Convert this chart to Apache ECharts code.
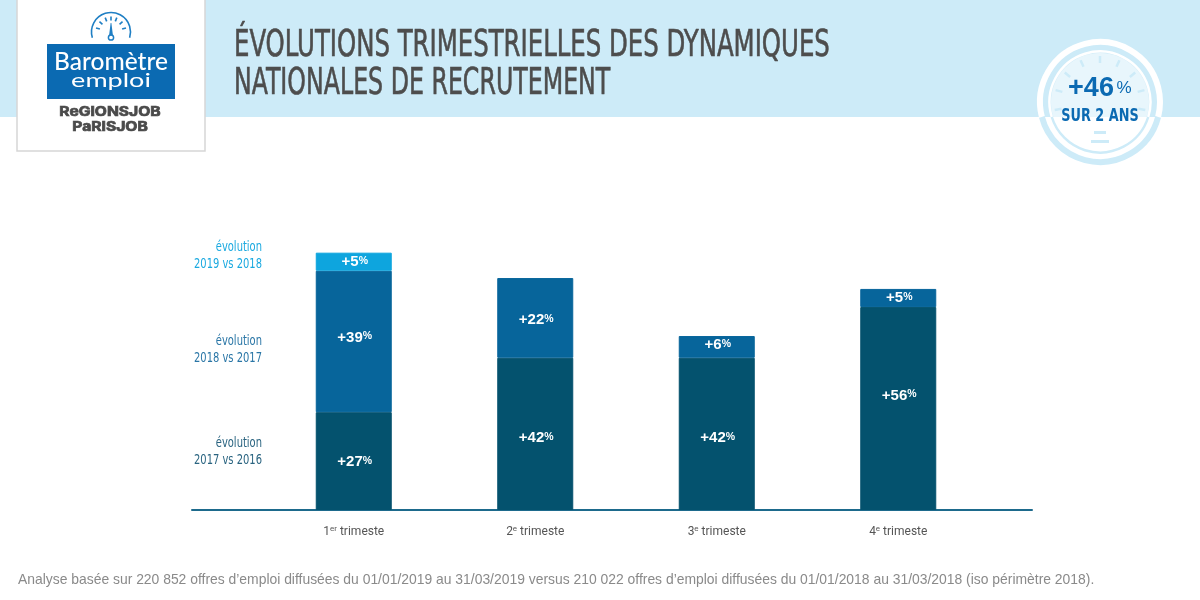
<!DOCTYPE html>
<html>
<head>
<meta charset="utf-8">
<style>html,body{margin:0;padding:0;background:#fff}#chart{width:1200px;height:600px}</style>
<script src="https://cdn.jsdelivr.net/npm/echarts@6/dist/echarts.min.js"></script>
</head>
<body>
<div id="chart"></div>
<script>
// donnees
const quarters = ['1{s|er} trimeste', '2{s|e} trimeste', '3{s|e} trimeste', '4{s|e} trimeste']
const evo2017 = [27, 42, 42, 56]
const evo2018 = [39, 22, 6, 5]
const evo2019 = [5, null, null, null]
const titleLines = ['ÉVOLUTIONS TRIMESTRIELLES DES DYNAMIQUES', 'NATIONALES DE RECRUTEMENT']
const footnote = 'Analyse basée sur 220 852 offres d’emploi diffusées du 01/01/2019 au 31/03/2019 versus 210 022 offres d’emploi diffusées du 01/01/2018 au 31/03/2018 (iso périmètre 2018).'

const narrow = '"DejaVu Sans Condensed","DejaVu Sans",sans-serif'
const sans = '"Liberation Sans",Arial,sans-serif'
const bandColor = '#cdebf8'
const gaugeBlue = '#1f7fc4'
const deg = Math.PI / 180

// les etiquettes ne sont pas toutes centrees dans l'original
function barSeries(name, data, color, shifts) {
    return {
        name: name,
        type: 'bar',
        stack: 'total',
        data: data.map((v, i) => v === null ? null : {value: v, label: {offset: [1, shifts[i]]}}),
        barWidth: 76,
        itemStyle: {color: color, borderColor: color, borderWidth: 1},
        label: {
            show: true,
            position: 'inside',
            formatter: '+{c}{p|%}',
            color: '#fff',
            fontFamily: sans,
            fontSize: 15,
            fontWeight: 'bold',
            rich: {p: {fontSize: 10.5, color: '#fff', fontFamily: sans, padding: [0, 0, 2, 0]}}
        }
    }
}

function sideLabel(y, lines, color) {
    return {
        type: 'text', x: 262, y: y, scaleX: 0.79,
        style: {text: lines, fill: color, font: '14px ' + narrow, align: 'right', verticalAlign: 'top', lineHeight: 17}
    }
}

function radialTicks(cx, cy, angles, r1, r2, color, width) {
    return angles.map(a => ({
        type: 'line',
        shape: {x1: cx + r1 * Math.cos(a * deg), y1: cy + r1 * Math.sin(a * deg), x2: cx + r2 * Math.cos(a * deg), y2: cy + r2 * Math.sin(a * deg)},
        style: {stroke: color, lineWidth: width}
    }))
}

// anneau de la pastille : couleurs inversees au dessus et au dessous du bandeau
function badgeRing(r, width, top, bottom) {
    const cut = Math.asin(15 / r) / deg
    return [
        {type: 'arc', shape: {cx: 1100, cy: 102, r: r, startAngle: (180 - cut) * deg, endAngle: (360 + cut) * deg}, style: {stroke: top, fill: 'none', lineWidth: width}},
        {type: 'arc', shape: {cx: 1100, cy: 102, r: r, startAngle: cut * deg, endAngle: (180 - cut) * deg}, style: {stroke: bottom, fill: 'none', lineWidth: width}}
    ]
}

const graphics = [
    {type: 'rect', z: -10, shape: {x: 0, y: 0, width: 1200, height: 117}, style: {fill: bandColor}},
    // logo
    {type: 'rect', shape: {x: 17, y: -2, width: 188, height: 153}, style: {fill: '#fff', stroke: '#d6d6d6', lineWidth: 1.5}},
    {type: 'arc', shape: {cx: 111, cy: 32, r: 19.5, startAngle: 163 * deg, endAngle: 377 * deg}, style: {stroke: gaugeBlue, fill: 'none', lineWidth: 1.6}},
    ...radialTicks(111, 32, [195, 222, 248, 270, 292, 318, 345], 11.5, 15.5, gaugeBlue, 1.6),
    {type: 'polygon', shape: {points: [[109, 36], [113, 36], [111.4, 23], [110.6, 23]]}, style: {fill: gaugeBlue}},
    {type: 'circle', shape: {cx: 111, cy: 37.5, r: 2.6}, style: {fill: '#fff', stroke: gaugeBlue, lineWidth: 1.5}},
    {type: 'rect', shape: {x: 47, y: 44, width: 128, height: 55}, style: {fill: '#0b6ab2'}},
    {type: 'text', x: 111, y: 62, style: {text: 'Baromètre', fill: '#fff', font: '500 24.5px Lato,"Open Sans",sans-serif', align: 'center', verticalAlign: 'middle'}},
    {type: 'text', x: 111, y: 81, scaleX: 1.35, style: {text: 'emploi', fill: '#fff', font: '20px Lato,"Open Sans",sans-serif', align: 'center', verticalAlign: 'middle'}},
    {type: 'text', x: 110, y: 111.5, scaleX: 1.16, style: {text: 'ReGIONSJOB', fill: '#4a4a4a', stroke: '#4a4a4a', lineWidth: 0.7, font: 'bold 13.5px Inter,"DejaVu Sans"', align: 'center', verticalAlign: 'middle'}},
    {type: 'text', x: 110, y: 127, scaleX: 1.16, style: {text: 'PaRISJOB', fill: '#4a4a4a', stroke: '#4a4a4a', lineWidth: 0.7, font: 'bold 13.5px Inter,"DejaVu Sans"', align: 'center', verticalAlign: 'middle'}},
    // titre
    {type: 'text', x: 234, y: 46, scaleX: 0.733, style: {text: titleLines[0], fill: '#4d4d4d', stroke: '#4d4d4d', lineWidth: 0.6, font: '37px ' + narrow, verticalAlign: 'middle'}},
    {type: 'text', x: 234, y: 84, scaleX: 0.712, style: {text: titleLines[1], fill: '#4d4d4d', stroke: '#4d4d4d', lineWidth: 0.6, font: '37px ' + narrow, verticalAlign: 'middle'}},
    // pastille
    {type: 'circle', shape: {cx: 1100, cy: 102, r: 49}, style: {fill: '#e8f6fc'}},
    {type: 'rect', shape: {x: 1040, y: 117, width: 120, height: 50}, style: {fill: '#fff'}},
    ...badgeRing(60, 6, '#fff', bandColor),
    ...badgeRing(50.5, 2.5, '#fff', bandColor),
    ...radialTicks(1100, 102, [170, 195, 220, 245, 270, 295, 320, 345, 370], 39, 46, bandColor, 2.5),
    {type: 'rect', shape: {x: 1094, y: 131, width: 12, height: 3}, style: {fill: bandColor}},
    {type: 'rect', shape: {x: 1091, y: 140, width: 18, height: 3}, style: {fill: bandColor}},
    {type: 'text', x: 1091, y: 89, style: {text: '+46', fill: '#0b6ab2', font: 'bold 27px ' + sans, align: 'center', verticalAlign: 'middle'}},
    {type: 'text', x: 1124, y: 88, style: {text: '%', fill: '#0b6ab2', font: '17px ' + sans, align: 'center', verticalAlign: 'middle'}},
    {type: 'text', x: 1100, y: 117, scaleX: 0.84, style: {text: 'SUR 2 ANS', fill: '#0b6ab2', font: 'bold 17px ' + narrow, align: 'center', verticalAlign: 'middle'}},
    // legende a gauche
    sideLabel(239, 'évolution\n2019 vs 2018', '#1aa9e0'),
    sideLabel(333, 'évolution\n2018 vs 2017', '#2a76a6'),
    sideLabel(435, 'évolution\n2017 vs 2016', '#2a6480'),
    {type: 'text', x: 18, y: 580, style: {text: footnote, fill: '#8a8a8a', font: '13.9px ' + sans, verticalAlign: 'middle'}}
]

const chart = echarts.init(document.getElementById('chart'))
chart.setOption({
    animation: false,
    backgroundColor: '#fff',
    grid: [
        {left: 263, width: 726, top: 240, bottom: 90},
        {left: 192, width: 840, top: 240, bottom: 90}
    ],
    xAxis: [
        {
            type: 'category',
            data: quarters,
            gridIndex: 0,
            axisLine: {show: false},
            axisTick: {show: false},
            axisLabel: {
                margin: 15,
                color: '#555',
                fontFamily: 'Roboto',
                fontSize: 12,
                rich: {s: {fontSize: 8, color: '#555', fontFamily: 'Roboto', padding: [0, 0, 5, 0]}}
            }
        },
        {
            type: 'category',
            data: [],
            gridIndex: 1,
            axisLine: {show: true, lineStyle: {color: '#1d6a8c', width: 2}},
            axisTick: {show: false},
            axisLabel: {show: false}
        }
    ],
    yAxis: [
        {type: 'value', gridIndex: 0, min: 0, max: 74.5, show: false},
        {type: 'value', gridIndex: 1, min: 0, max: 74.5, show: false}
    ],
    series: [
        barSeries('évolution 2017 vs 2016', evo2017, '#04526e', [1, 4, 4, -13]),
        barSeries('évolution 2018 vs 2017', evo2018, '#07659b', [-4, 2, -2, 0]),
        barSeries('évolution 2019 vs 2018', evo2019, '#0ea5de', [0, 0, 0, 0])
    ],
    graphic: graphics
})
</script>
</body>
</html>
